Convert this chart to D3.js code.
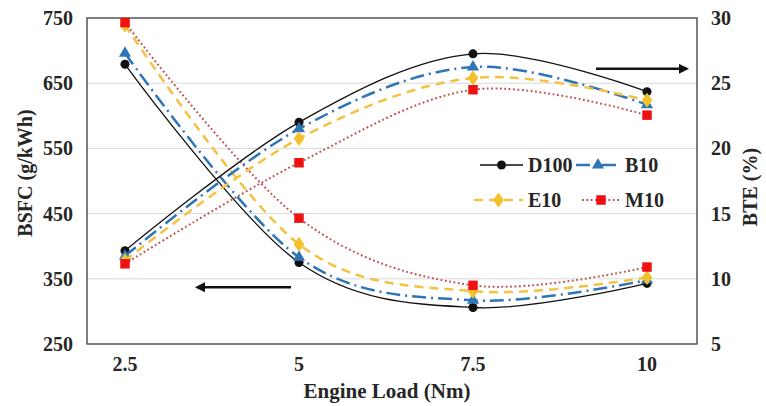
<!DOCTYPE html>
<html>
<head>
<meta charset="utf-8">
<script src="https://cdn.jsdelivr.net/npm/d3@7"></script>
<style>
  body { margin: 0; background: #fff; }
  text { font-family: 'Liberation Serif', 'Times New Roman', serif; font-weight: bold; fill: #262626; }
</style>
</head>
<body>
<div id="chart"></div>
<script>
const loads = [2.5, 5, 7.5, 10]
const loadLabels = ['2.5', '5', '7.5', '10']
const bsfcTicks = [250, 350, 450, 550, 650, 750]
const bteTicks = [5, 10, 15, 20, 25, 30]

// BSFC (g/kWh), left axis
const bsfcD100 = [679, 375, 306, 343]
const bsfcB10 = [696, 383, 317, 348]
const bsfcE10 = [739, 403, 331, 352]
const bsfcM10 = [743, 443, 340, 368]

// BTE (%), right axis
const bteD100 = [12.15, 22.0, 27.25, 24.35]
const bteB10 = [11.75, 21.5, 26.25, 23.35]
const bteE10 = [11.4, 20.75, 25.4, 23.7]
const bteM10 = [11.15, 18.9, 24.5, 22.55]

const seriesNames = ['D100', 'B10', 'E10', 'M10']

const dimensions = {
  width: 766,
  height: 406,
  margin: { top: 18, right: 69, bottom: 62, left: 87 }
}

const styles = {
  D100: { color: '#111', marker: '#111', width: 1.3, dash: null, symbol: 'circle' },
  B10: { color: '#2e75b6', marker: '#2e75b6', width: 2.5, dash: '14,5,2,5', symbol: 'triangle' },
  E10: { color: '#f4c243', marker: '#f2c12e', width: 2.5, dash: '9,6', symbol: 'diamond' },
  M10: { color: '#c0504d', marker: '#ee1111', width: 2, dash: '1.8,2.6', symbol: 'square' }
}

const bsfc = { D100: bsfcD100, B10: bsfcB10, E10: bsfcE10, M10: bsfcM10 }
const bte = { D100: bteD100, B10: bteB10, E10: bteE10, M10: bteM10 }

const x0 = dimensions.margin.left
const x1 = dimensions.width - dimensions.margin.right
const y0 = dimensions.margin.top
const y1 = dimensions.height - dimensions.margin.bottom

const svg = d3.select('#chart').append('svg')
  .attr('width', dimensions.width)
  .attr('height', dimensions.height)

// categories sit a bit inside the frame, like in the original
const xScale = d3.scaleLinear().domain([2.5, 10]).range([x0 + 38, x1 - 50])
const yLeft = d3.scaleLinear().domain([250, 750]).range([y1, y0])
const yRight = d3.scaleLinear().domain([5, 30]).range([y1, y0])

// gridlines
svg.append('g')
  .selectAll('line')
  .data(bsfcTicks.slice(1, -1))
  .join('line')
  .attr('x1', x0).attr('x2', x1)
  .attr('y1', d => yLeft(d)).attr('y2', d => yLeft(d))
  .attr('stroke', '#d9d9d9')
  .attr('stroke-width', 1)

// frame
svg.append('rect')
  .attr('x', x0).attr('y', y0)
  .attr('width', x1 - x0).attr('height', y1 - y0)
  .attr('fill', 'none')
  .attr('stroke', '#555')
  .attr('stroke-width', 1.5)

// left axis labels
svg.append('g')
  .selectAll('text')
  .data(bsfcTicks)
  .join('text')
  .attr('x', 73)
  .attr('y', d => yLeft(d) + 7)
  .attr('text-anchor', 'end')
  .style('font-size', '20px')
  .text(d => d)

// right axis labels
svg.append('g')
  .selectAll('text')
  .data(bteTicks)
  .join('text')
  .attr('x', 711)
  .attr('y', d => yRight(d) + 7)
  .attr('text-anchor', 'start')
  .style('font-size', '20px')
  .text(d => d)

// x labels
svg.append('g')
  .selectAll('text')
  .data(loads)
  .join('text')
  .attr('x', d => xScale(d))
  .attr('y', 371)
  .attr('text-anchor', 'middle')
  .style('font-size', '20px')
  .text((d, i) => loadLabels[i])

svg.append('text')
  .attr('x', 387).attr('y', 398)
  .attr('text-anchor', 'middle')
  .style('font-size', '21px')
  .text('Engine Load (Nm)')

svg.append('text')
  .attr('transform', 'translate(32, 173) rotate(-90)')
  .attr('text-anchor', 'middle')
  .style('font-size', '20px')
  .text('BSFC (g/kWh)')

svg.append('text')
  .attr('transform', 'translate(757, 187) rotate(-90)')
  .attr('text-anchor', 'middle')
  .style('font-size', '20px')
  .text('BTE (%)')

// arrows
const defs = svg.append('defs')
defs.append('marker')
  .attr('id', 'head')
  .attr('viewBox', '0 0 10 10')
  .attr('refX', 8).attr('refY', 5)
  .attr('markerWidth', 4).attr('markerHeight', 4)
  .attr('orient', 'auto')
  .append('path')
  .attr('d', 'M0,0 L10,5 L0,10 z')
  .attr('fill', '#111')

svg.append('line')
  .attr('x1', xScale(5) - 8).attr('x2', xScale(2.5) + 72)
  .attr('y1', yLeft(337)).attr('y2', yLeft(337))
  .attr('stroke', '#111').attr('stroke-width', 2.5)
  .attr('marker-end', 'url(#head)')
svg.append('line')
  .attr('x1', xScale(7.5) + 123).attr('x2', xScale(10) + 40)
  .attr('y1', yRight(26.1)).attr('y2', yRight(26.1))
  .attr('stroke', '#111').attr('stroke-width', 2.5)
  .attr('marker-end', 'url(#head)')

function symbolPath (kind) {
  if (kind === 'circle') return d3.symbol(d3.symbolCircle, 64)()
  if (kind === 'triangle') return d3.symbol(d3.symbolTriangle, 64)()
  if (kind === 'square') return d3.symbol(d3.symbolSquare, 90)()
  return d3.symbol(d3.symbolDiamond, 64)()
}

const curve = d3.curveCardinal.tension(0)
const plot = svg.append('g').attr('class', 'contents')

function drawSeries (name, values, yScale) {
  const st = styles[name]
  const pts = values.map((v, i) => [xScale(loads[i]), yScale(v)])
  plot.append('path')
    .attr('id', name)
    .attr('d', d3.line().curve(curve)(pts))
    .attr('fill', 'none')
    .attr('stroke', st.color)
    .attr('stroke-width', st.width)
    .attr('stroke-dasharray', st.dash)
  plot.append('g')
    .selectAll('path')
    .data(pts)
    .join('path')
    .attr('transform', d => st.symbol === 'diamond'
      ? `translate(${d[0]},${d[1]}) scale(1.25,1)`
      : `translate(${d[0]},${d[1]})`)
    .attr('d', symbolPath(st.symbol))
    .attr('fill', st.marker)
}

seriesNames.forEach(n => drawSeries(n, bsfc[n], yLeft))
seriesNames.forEach(n => drawSeries(n, bte[n], yRight))

// legend: [line start, row y, line length]
const legendPos = [[480, 165, 43], [576, 165, 44], [474, 200, 49], [582, 200, 38]]
const legend = svg.append('g').attr('class', 'drivers_legend')
seriesNames.forEach((n, i) => {
  const st = styles[n]
  const [lx, ly, len] = legendPos[i]
  const g = legend.append('g').attr('id', n)
  g.append('line')
    .attr('x1', lx).attr('x2', lx + len)
    .attr('y1', ly).attr('y2', ly)
    .attr('stroke', st.color)
    .attr('stroke-width', st.width)
    .attr('stroke-dasharray', st.dash)
  g.append('path')
    .attr('transform', st.symbol === 'diamond'
      ? `translate(${lx + len / 2},${ly}) scale(1.25,1)`
      : `translate(${lx + len / 2},${ly})`)
    .attr('d', symbolPath(st.symbol))
    .attr('fill', st.marker)
  g.append('text')
    .attr('x', lx + len + 5)
    .attr('y', ly + 7)
    .style('font-size', '20px')
    .text(n)
})
</script>
</body>
</html>
